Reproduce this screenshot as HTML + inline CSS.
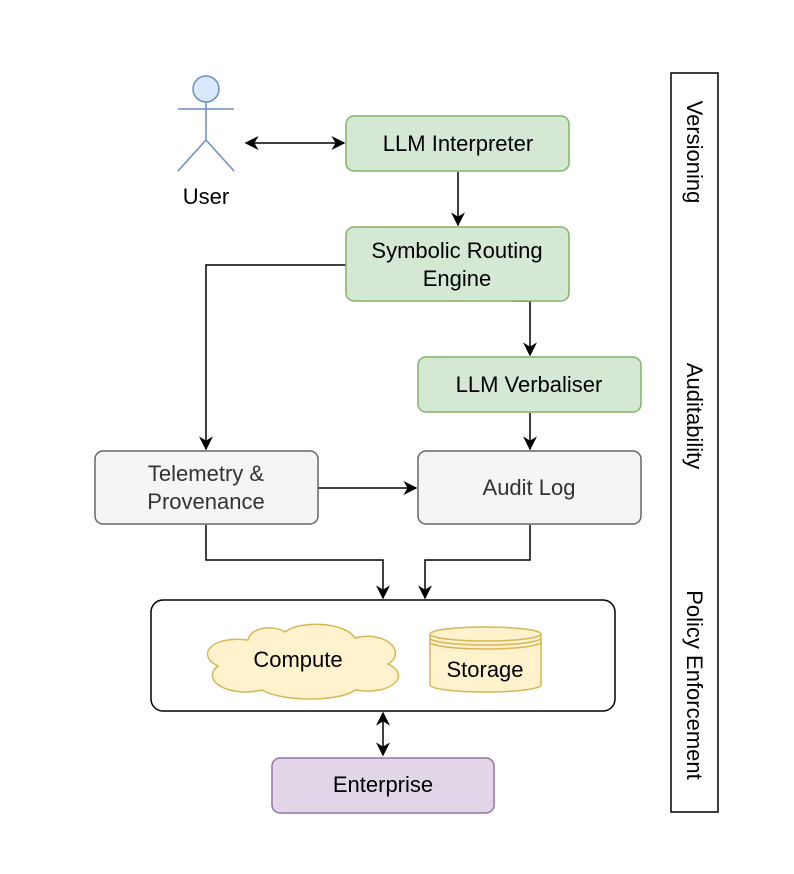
<!DOCTYPE html>
<html><head><meta charset="utf-8"><style>body{margin:0;background:#fff}svg{display:block}text{font-family:"Liberation Sans",Arial,sans-serif;font-size:22px;fill:#000}</style></head>
<body>
<svg width="794" height="874" viewBox="0 0 794 874" xmlns="http://www.w3.org/2000/svg">
<defs>
<marker id="b" viewBox="0 0 10 10" refX="9" refY="5" markerWidth="14" markerHeight="14" orient="auto-start-reverse" markerUnits="userSpaceOnUse"><path d="M0,0 L10,5 L0,10 L3,5 z" fill="#000"/></marker>
</defs>
<g fill="none" stroke="#000" stroke-width="1.5">
<circle cx="206" cy="89" r="13" fill="#dae8fc" stroke="#6c8ebf"/>
<path d="M206 102 V140 M178 109 H234 M206 140 L178 171 M206 140 L234 171" stroke="#6c8ebf"/>
<path d="M246 143 H344" marker-start="url(#b)" marker-end="url(#b)"/>
<path d="M458 172 V225" marker-end="url(#b)"/>
<path d="M346 265 H206 V449" marker-end="url(#b)"/>
<path d="M513 301 H530 V355" marker-end="url(#b)"/>
<path d="M530 413 V449" marker-end="url(#b)"/>
<path d="M318 488 H416" marker-end="url(#b)"/>
<path d="M206 525 V560 H383 V598" marker-end="url(#b)"/>
<path d="M530 525 V560 H425 V598" marker-end="url(#b)"/>
<path d="M383 713 V755" marker-start="url(#b)" marker-end="url(#b)"/>
</g>
<rect x="346" y="116" width="223" height="55" rx="8" fill="#d5e8d4" stroke="#82b366" stroke-width="1.5"/>
<rect x="346" y="227" width="223" height="74" rx="8" fill="#d5e8d4" stroke="#82b366" stroke-width="1.5"/>
<rect x="418" y="357" width="223" height="55" rx="8" fill="#d5e8d4" stroke="#82b366" stroke-width="1.5"/>
<rect x="95" y="451" width="223" height="73" rx="8" fill="#f5f5f5" stroke="#666" stroke-width="1.5"/>
<rect x="418" y="451" width="223" height="73" rx="8" fill="#f5f5f5" stroke="#666" stroke-width="1.5"/>
<rect x="151" y="600" width="464" height="111" rx="12" fill="#fff" stroke="#000" stroke-width="1.5"/>
<rect x="272" y="758" width="222" height="55" rx="8" fill="#e1d5e7" stroke="#9673a6" stroke-width="1.5"/>
<rect x="671" y="73" width="47" height="739" fill="#fff" stroke="#000" stroke-width="1.5"/>
<path d="M248 640 C210 635 196 656 218 666 C200 680 228 698 262 690 C282 702 340 702 355 690 C392 696 412 675 388 664 C408 652 385 630 355 638 C345 622 300 620 285 632 C272 624 250 628 248 640 Z" fill="#fff2cc" stroke="#d6b656" stroke-width="1.5"/>
<path d="M430 634 V685 A55.5 7 0 0 0 541 685 V634" fill="#fff2cc" stroke="#d6b656" stroke-width="1.5"/>
<ellipse cx="485.5" cy="634" rx="55.5" ry="7" fill="#fff2cc" stroke="#d6b656" stroke-width="1.5"/>
<path d="M430 638 A55.5 7 0 0 0 541 638 M430 642 A55.5 7 0 0 0 541 642" fill="none" stroke="#d6b656" stroke-width="1.5"/>
<g text-anchor="middle">
<text x="206" y="204">User</text>
<text x="458" y="151">LLM Interpreter</text>
<text x="457" y="258">Symbolic Routing</text>
<text x="457" y="286">Engine</text>
<text x="529" y="392">LLM Verbaliser</text>
<text x="206" y="481" style="fill:#333">Telemetry &amp;</text>
<text x="206" y="509" style="fill:#333">Provenance</text>
<text x="529" y="495" style="fill:#333">Audit Log</text>
<text x="298" y="667">Compute</text>
<text x="485" y="677">Storage</text>
<text x="383" y="792">Enterprise</text>
<text transform="translate(687,152) rotate(90)">Versioning</text>
<text transform="translate(687,416) rotate(90)">Auditability</text>
<text transform="translate(687,685) rotate(90)">Policy Enforcement</text>
</g>
</svg>
</body></html>
